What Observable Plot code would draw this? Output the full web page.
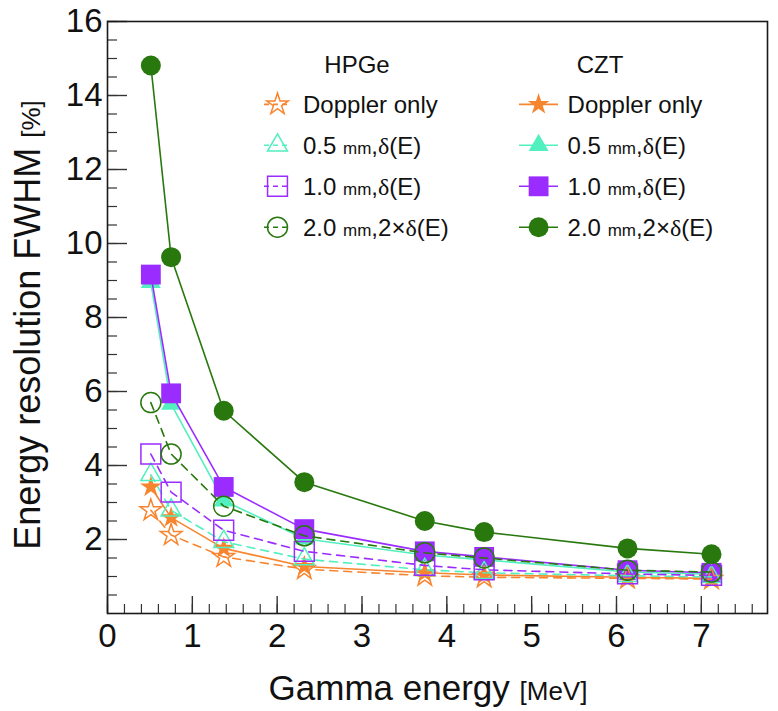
<!DOCTYPE html>
<html><head><meta charset="utf-8">
<script src="https://cdn.jsdelivr.net/npm/d3@7"></script>
<script src="https://cdn.jsdelivr.net/npm/@observablehq/plot@0.6"></script>
<style>
html,body{margin:0;padding:0;background:#fff;}
#chart svg{display:block;}
</style></head><body><div id="chart"></div>
<script>
// ---- data ----
const energy = [0.511, 0.75, 1.37, 2.32, 3.74, 4.44, 6.13, 7.12];

const hpgeDoppler = [2.79, 2.12, 1.53, 1.20, 1.02, 0.98, 0.95, 0.93];
const hpge05      = [3.75, 2.79, 1.94, 1.47, 1.18, 1.10, 1.02, 0.99];
const hpge10      = [4.31, 3.28, 2.25, 1.68, 1.30, 1.18, 1.07, 1.03];
const hpge20      = [5.70, 4.31, 2.90, 2.10, 1.64, 1.50, 1.17, 1.12];

const cztDoppler  = [3.42, 2.59, 1.76, 1.27, 1.10, 1.04, 0.98, 0.95];
const czt05       = [8.95, 5.66, 3.05, 2.02, 1.58, 1.45, 1.12, 1.06];
const czt10       = [9.16, 5.95, 3.42, 2.28, 1.68, 1.53, 1.17, 1.10];
const czt20       = [14.81, 9.63, 5.48, 3.55, 2.50, 2.20, 1.76, 1.60];

const xTickLabels = [0, 1, 2, 3, 4, 5, 6, 7];
const yTickLabels = [2, 4, 6, 8, 10, 12, 14, 16];
const legendRowLabels = ["Doppler only", "0.5 mm,δ(E)", "1.0 mm,δ(E)", "2.0 mm,2×δ(E)"];
const detectors = ["HPGe", "CZT"];

// ---- styles ----
const C = {orange: "#f7852f", mint: "#52efbf", purple: "#9b2cff", green: "#28780e"};
const R = {star: 6.8, triangle: 7.4, square: 11.2, circle: 10};
const seriesDefs = [
  {key: "cztDoppler", values: cztDoppler, color: C.orange, symbol: "star",     filled: true},
  {key: "czt05",      values: czt05,      color: C.mint,   symbol: "triangle", filled: true},
  {key: "czt10",      values: czt10,      color: C.purple, symbol: "square",   filled: true},
  {key: "czt20",      values: czt20,      color: C.green,  symbol: "circle",   filled: true},
  {key: "hpgeDoppler",values: hpgeDoppler,color: C.orange, symbol: "star",     filled: false},
  {key: "hpge05",     values: hpge05,     color: C.mint,   symbol: "triangle", filled: false},
  {key: "hpge10",     values: hpge10,     color: C.purple, symbol: "square",   filled: false},
  {key: "hpge20",     values: hpge20,     color: C.green,  symbol: "circle",   filled: false}
];

const W = 778, H = 711;
const mL = 107, mR = 11, mT = 21, mB = 98;
const innerW = W - mL - mR, innerH = H - mT - mB;

const xMinor = d3.range(0, 7.79, 0.2);
const yMinor = d3.range(0.5, 16.01, 0.5);

const marks = [];
// ticks (inside, ROOT style)
marks.push(Plot.tickX(xMinor, {x: d => d, stroke: "#333", strokeWidth: 1.2, insetTop: innerH - 9}));
marks.push(Plot.tickX(xTickLabels, {x: d => d, stroke: "#333", strokeWidth: 1.4, insetTop: innerH - 17}));
marks.push(Plot.tickY(yMinor, {y: d => d, stroke: "#333", strokeWidth: 1.2, insetRight: innerW - 10}));
marks.push(Plot.tickY(yTickLabels, {y: d => d, stroke: "#333", strokeWidth: 1.4, insetRight: innerW - 20}));

for (const s of seriesDefs) {
  const rows = energy.map((e, i) => ({E: e, v: s.values[i]}));
  marks.push(Plot.line(rows, {x: "E", y: "v", stroke: s.color, strokeWidth: 1.6,
    strokeDasharray: s.filled ? null : "8,6"}));
  marks.push(Plot.dot(rows, {x: "E", y: "v", symbol: s.symbol, r: R[s.symbol],
    fill: s.filled ? s.color : "none", stroke: s.filled ? "none" : s.color, strokeWidth: 1.5}));
}

marks.push(Plot.frame({stroke: "#1a1a1a", strokeWidth: 1.6}));
marks.push(Plot.axisX(xTickLabels, {tickSize: 0, tickPadding: 10, label: null, fill: "#111"}));
marks.push(Plot.axisY(yTickLabels, {tickSize: 0, tickPadding: 5, label: null, fill: "#111"}));

const chart = Plot.plot({
  width: W, height: H,
  marginLeft: mL, marginRight: mR, marginTop: mT, marginBottom: mB,
  x: {domain: [0, 7.78]},
  y: {domain: [0, 16]},
  style: {fontFamily: "'Liberation Sans', Arial, Helvetica, sans-serif", fontSize: "33px", background: "#fff", color: "#111"},
  marks
});
document.getElementById("chart").appendChild(chart);

// ---- axis titles and legend (text overlays) ----
const svg = d3.select(chart);
const FF = "'Liberation Sans', Arial, Helvetica, sans-serif";

const xt = svg.append("text").attr("x", 428).attr("y", 700).attr("text-anchor", "middle")
  .attr("font-family", FF).attr("fill", "#111");
xt.append("tspan").attr("font-size", 35).text("Gamma energy ");
xt.append("tspan").attr("font-size", 26).text("[MeV]");

const yt = svg.append("text").attr("transform", "translate(40,325) rotate(-90)").attr("text-anchor", "middle")
  .attr("font-family", FF).attr("fill", "#111");
yt.append("tspan").attr("font-size", 36).text("Energy resolution FWHM ");
yt.append("tspan").attr("font-size", 26).text("[%]");

const leg = {
  HPGe: {marker: 277.5, x1: 264, x2: 291, text: 303, header: 357, dashed: true},
  CZT:  {marker: 538.6, x1: 519, x2: 558, text: 567.6, header: 600, dashed: false}
};
const rowY = [104.4, 145.3, 186.3, 227.2];
const lg = svg.append("g").attr("font-family", FF).attr("fill", "#111").attr("text-anchor", "start");
detectors.forEach((det, di) => {
  const L = leg[det];
  lg.append("text").attr("x", L.header).attr("y", 73).attr("text-anchor", "middle")
    .attr("font-size", 24).text(det);
  for (let r = 0; r < 4; r++) {
    const s = seriesDefs[(di === 0 ? 4 : 0) + r];
    const y = rowY[r];
    lg.append("line").attr("x1", L.x1).attr("x2", L.x2).attr("y1", y).attr("y2", y)
      .attr("stroke", s.color).attr("stroke-width", 1.6)
      .attr("stroke-dasharray", L.dashed ? "5,4" : null);
    const rr = R[s.symbol];
    const sym = {star: d3.symbolStar, triangle: d3.symbolTriangle, square: d3.symbolSquare, circle: d3.symbolCircle}[s.symbol];
    lg.append("path").attr("d", d3.symbol(sym, rr * rr * Math.PI)())
      .attr("transform", `translate(${L.marker},${y})`)
      .attr("fill", s.filled ? s.color : "none")
      .attr("stroke", s.filled ? "none" : s.color).attr("stroke-width", 1.5);
    const label = legendRowLabels[r];
    const t = lg.append("text").attr("x", L.text).attr("y", y + 8.6).attr("font-size", 24)
      .attr("text-anchor", "start");
    const m = label.match(/^(\S+) mm,(.*)δ\(E\)$/);
    if (!m) { t.text(label); }
    else {
      t.append("tspan").text(m[1] + " ");
      t.append("tspan").attr("font-size", 17).text("mm");
      t.append("tspan").text("," + m[2]);
      t.append("tspan").attr("font-family", "'Liberation Serif', 'DejaVu Serif', serif").text("δ");
      t.append("tspan").text("(E)");
    }
  }
});
</script></body></html>
